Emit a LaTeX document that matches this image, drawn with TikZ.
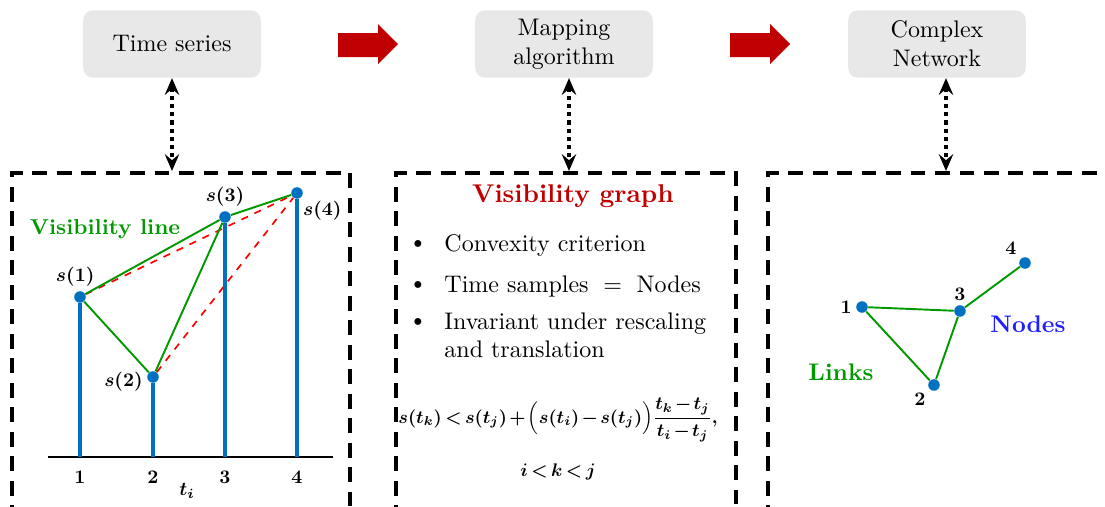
\documentclass[tikz,border=0pt]{standalone}
\usepackage{amsmath}
\usepackage{amssymb}
\usepackage{graphicx}
\usepackage{tikz}
\usepackage{xcolor}
\usetikzlibrary{arrows.meta,positioning}
\definecolor{boxgrey}{HTML}{E8E8E8}
\definecolor{stemblue}{HTML}{0070C0}
\definecolor{visgreen}{HTML}{009900}
\definecolor{darkred}{HTML}{C00000}
\definecolor{nodeblue}{HTML}{1F1FFF}
\newcommand{\bmlab}[1]{\scalebox{0.8}{\boldmath$#1$}}
\newcommand{\bmeq}[1]{\scalebox{0.76}{\boldmath\medmuskip=2mu\thickmuskip=3mu$\displaystyle #1$}}
\tikzset{
    greybox/.style={fill=boxgrey,rounded corners=4pt,minimum width=74pt,minimum height=28pt,align=center,inner sep=2pt},
    dashbox/.style={line width=1.5pt,dash pattern=on 6.2pt off 4pt},
    linkarrow/.style={{Stealth[length=7pt,width=6pt,inset=2.5pt]}-{Stealth[length=7pt,width=6pt,inset=2.5pt]},line width=1.5pt,dash pattern=on 1.7pt off 1.7pt},
    stem/.style={stemblue,line width=1.4pt},
    dot/.style={circle,fill=stemblue,inner sep=0pt,minimum size=4.8pt},
    visline/.style={visgreen,line width=0.8pt},
    hiddenline/.style={red,dashed,line width=0.7pt},
    lbl/.style={inner sep=1.5pt}
}
\begin{document}
\begin{tikzpicture}[x=0.4167pt,y=-0.4167pt]
    \useasboundingbox (0,0) rectangle (1105,507);
    % top row
    \node [greybox] (ts) at (172,44) {Time series};
    \node [greybox] (map) at (564,44) {Mapping\\algorithm};
    \node [greybox] (net) at (937,44) {Complex\\Network};
    \foreach \x in {338,730}
        \fill [darkred] (\x,33)--(\x+40,33)--(\x+40,24)--(\x+60,44)--(\x+40,64)--(\x+40,57)--(\x,57)--cycle;
    % dashed panels
    \draw [dashbox] (12,520)--(12,173)--(350,173)--(350,520);
    \draw [dashbox] (396,520)--(396,173)--(736,173)--(736,520);
    \draw [dashbox] (768,520)--(768,173)--(1120,173);
    \coordinate (tsPanel) at (172,171);
    \coordinate (mapPanel) at (569,171);
    \coordinate (netPanel) at (946,171);
    \draw [linkarrow] (ts.south)--(tsPanel);
    \draw [linkarrow] (map.south -| mapPanel)--(mapPanel);
    \draw [linkarrow] (net.south -| netPanel)--(netPanel);
    % time series and visibility lines
    \draw [line width=0.9pt] (48,457)--(333,457);
    \node [dot,label={[lbl,xshift=-2pt]above:\bmlab{s(1)}}] (s1) at (80,297) {};
    \node [dot,label={[lbl,yshift=-2pt]left:\bmlab{s(2)}}] (s2) at (153,377) {};
    \node [dot,label={[lbl]above:\bmlab{s(3)}}] (s3) at (225,217) {};
    \node [dot,label={[lbl,xshift=-1pt]below right:\bmlab{s(4)}}] (s4) at (297,193) {};
    \foreach \p/\t in {s1/1,s2/2,s3/3,s4/4} {
        \coordinate (b\t) at (\p |- 0,457);
        \draw [stem] (\p)--(b\t);
        \node [lbl,below=4pt of b\t] (tick\t) {\bmlab{\t}};
    }
    \node [lbl] (ti) at (187,491) {\bmlab{t_i}};
    \draw [hiddenline] (s1)--(s4);
    \draw [hiddenline] (s2)--(s4);
    \draw [visline] (s1)--(s3);
    \draw [visline] (s1)--(s2);
    \draw [visline] (s2)--(s3);
    \draw [visline] (s3)--(s4);
    \node [visgreen,font=\small\bfseries] (visl) at (105,229) {Visibility line};
    % visibility graph text
    \node [darkred,font=\fontsize{10.7}{13}\selectfont\bfseries] (vg) at (573,196) {Visibility graph};
    \node (bulA) at (418,245) {\textbullet};
    \node [anchor=west] (itA) at (436,245) {Convexity criterion};
    \node (bulB) at (418,286) {\textbullet};
    \node [anchor=west] (itB) at (436,286) {Time samples $\;=\;$ Nodes};
    \node (bulC) at (418,323) {\textbullet};
    \node [anchor=north west,align=left,inner sep=0pt] (itC) at (444,312) {Invariant under rescaling\\and translation};
    \node (crit) at (558,420)
        {\bmeq{s(t_k) < s(t_j) + \Big(s(t_i) - s(t_j)\Big)\frac{t_k - t_j}{t_i - t_j},}};
    \node (order) at (558,472) {\bmeq{i < k < j}};
    % complex network
    \node [dot,label={[lbl]left:\bmlab{1}}] (n1) at (862,307) {};
    \node [dot,label={[lbl]below left:\bmlab{2}}] (n2) at (934,385) {};
    \node [dot,label={[lbl]above:\bmlab{3}}] (n3) at (960,311) {};
    \node [dot,label={[lbl]above left:\bmlab{4}}] (n4) at (1025,263) {};
    \draw [visline] (n1)--(n3);
    \draw [visline] (n1)--(n2);
    \draw [visline] (n2)--(n3);
    \draw [visline] (n3)--(n4);
    \node [nodeblue,font=\bfseries] (nodes) at (1028,324) {Nodes};
    \node [visgreen,font=\bfseries] (links) at (841,372) {Links};
\end{tikzpicture}
\end{document}
